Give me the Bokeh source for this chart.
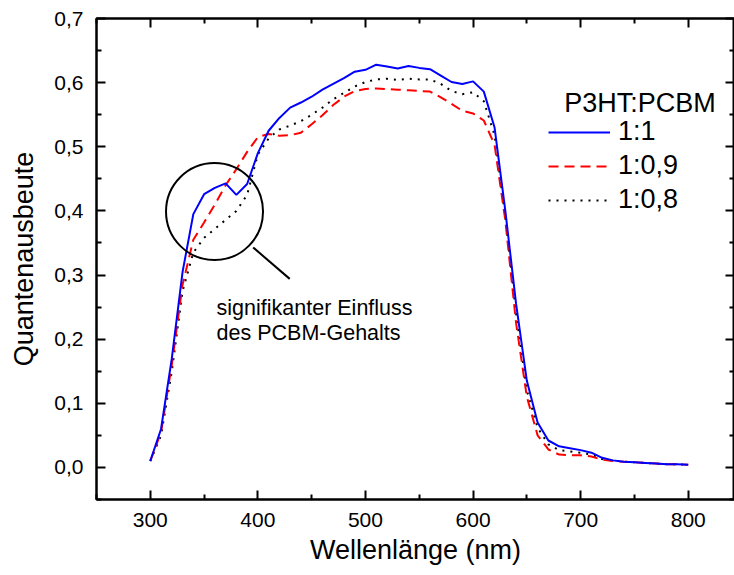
from bokeh.plotting import figure
from bokeh.models import (LinearAxis, FixedTicker, CustomJSTickFormatter, Range1d,
                          Legend, LegendItem, Label)
from bokeh.embed import file_html
from bokeh.resources import INLINE

# ---------------- data ----------------
wavelength = list(range(300, 801, 10))

qe_1_1 = [0.010, 0.060, 0.170, 0.305, 0.395, 0.426, 0.436, 0.443, 0.425, 0.442,
          0.490, 0.525, 0.545, 0.561, 0.569, 0.578, 0.589, 0.598, 0.607, 0.617,
          0.620, 0.628, 0.625, 0.622, 0.626, 0.623, 0.621, 0.611, 0.601, 0.598,
          0.602, 0.586, 0.530, 0.400, 0.255, 0.135, 0.070, 0.042, 0.033, 0.030,
          0.027, 0.023, 0.015, 0.011, 0.009, 0.008, 0.007, 0.006, 0.005, 0.005,
          0.004]

qe_1_09 = [0.010, 0.055, 0.160, 0.285, 0.355, 0.382, 0.410, 0.440, 0.465, 0.492,
           0.515, 0.520, 0.517, 0.518, 0.522, 0.535, 0.549, 0.565, 0.578, 0.587,
           0.590, 0.591, 0.590, 0.589, 0.588, 0.587, 0.586, 0.577, 0.567, 0.556,
           0.552, 0.541, 0.503, 0.385, 0.225, 0.110, 0.050, 0.028, 0.020, 0.019,
           0.019, 0.017, 0.012, 0.010, 0.009, 0.008, 0.007, 0.006, 0.005, 0.005,
           0.004]

qe_1_08 = [0.010, 0.050, 0.150, 0.275, 0.335, 0.358, 0.372, 0.386, 0.400, 0.425,
           0.488, 0.513, 0.527, 0.533, 0.540, 0.550, 0.561, 0.574, 0.584, 0.594,
           0.601, 0.605, 0.606, 0.604, 0.606, 0.605, 0.605, 0.598, 0.587, 0.582,
           0.585, 0.571, 0.518, 0.390, 0.240, 0.120, 0.062, 0.036, 0.027, 0.025,
           0.023, 0.020, 0.013, 0.011, 0.009, 0.008, 0.007, 0.006, 0.005, 0.005,
           0.004]

series_labels = ["1:1", "1:0,9", "1:0,8"]
legend_title = "P3HT:PCBM"
annotation_lines = ["signifikanter Einfluss", "des PCBM-Gehalts"]

x_ticks = [300, 400, 500, 600, 700, 800]
x_minor = [250, 350, 450, 550, 650, 750, 850]
y_ticks = [0.0, 0.1, 0.2, 0.3, 0.4, 0.5, 0.6, 0.7]
y_minor = [-0.05, 0.05, 0.15, 0.25, 0.35, 0.45, 0.55, 0.65]

FONT = "Liberation Sans"

# ---------------- figure ----------------
p = figure(width=734, height=575, output_backend="svg", toolbar_location=None,
           x_range=Range1d(250, 843), y_range=Range1d(-0.05, 0.7),
           min_border_left=96, min_border_right=0, min_border_top=18,
           min_border_bottom=76,
           x_axis_label="Wellenlänge (nm)", y_axis_label="Quantenausbeute")
p.grid.visible = False
p.outline_line_color = "black"
p.outline_line_width = 2
p.background_fill_color = "white"
p.border_fill_color = "white"

xt = FixedTicker(ticks=x_ticks, minor_ticks=x_minor)
yt = FixedTicker(ticks=y_ticks, minor_ticks=y_minor)

comma_fmt = CustomJSTickFormatter(code="return tick.toFixed(1).replace('.', ',');")
blank_fmt = CustomJSTickFormatter(code="return '';")


def style_axis(ax, labels=True):
    ax.axis_line_color = "black"
    ax.axis_line_width = 2
    ax.major_tick_line_color = "black"
    ax.major_tick_line_width = 2
    ax.minor_tick_line_color = "black"
    ax.minor_tick_line_width = 2
    ax.major_tick_in = 9
    ax.major_tick_out = 0
    ax.minor_tick_in = 5
    ax.minor_tick_out = 0
    ax.major_label_text_font = FONT
    ax.major_label_text_color = "black"
    ax.axis_label_text_font = FONT
    ax.axis_label_text_font_style = "normal"
    ax.axis_label_text_color = "black"
    if labels:
        ax.major_label_text_font_size = "21px"
        ax.axis_label_text_font_size = "27px"
    else:
        ax.major_label_text_font_size = "0px"
        ax.major_label_standoff = 0


xa = p.xaxis[0]
xa.ticker = xt
style_axis(xa)
xa.major_label_standoff = 13
xa.axis_label_standoff = 5

ya = p.yaxis[0]
ya.ticker = yt
ya.formatter = comma_fmt
style_axis(ya)
ya.major_label_standoff = 13
ya.axis_label_standoff = 12

top = LinearAxis(ticker=FixedTicker(ticks=x_ticks, minor_ticks=x_minor), formatter=blank_fmt)
style_axis(top, labels=False)
p.add_layout(top, "above")

right = LinearAxis(ticker=FixedTicker(ticks=y_ticks, minor_ticks=y_minor), formatter=blank_fmt)
style_axis(right, labels=False)
p.add_layout(right, "right")

# ---------------- data lines ----------------
r3 = p.line(wavelength, qe_1_08, line_color="black", line_width=2, line_dash="2 6")
r2 = p.line(wavelength, qe_1_09, line_color="#ff0000", line_width=2, line_dash="10 6")
r1 = p.line(wavelength, qe_1_1, line_color="#0000ff", line_width=2)

# ---------------- annotation ----------------
p.scatter(x=[359.7], y=[0.399], marker="circle", size=97, fill_color=None,
          line_color="black", line_width=2)
p.segment(x0=[395.6], y0=[0.343], x1=[429.6], y1=[0.294],
          line_color="black", line_width=2)
p.add_layout(Label(x=361.6, y=0.249, text=annotation_lines[0], text_baseline="middle",
                   text_font=FONT, text_font_size="21.5px", text_color="black"))
p.add_layout(Label(x=361.6, y=0.210, text=annotation_lines[1], text_baseline="middle",
                   text_font=FONT, text_font_size="21.5px", text_color="black"))

# ---------------- legend ----------------
p.add_layout(Label(x=684.7, y=0.568, text=legend_title, text_baseline="middle",
                   text_font=FONT, text_font_size="27px", text_color="black"))

legend = Legend(items=[LegendItem(label=series_labels[0], renderers=[r1]),
                       LegendItem(label=series_labels[1], renderers=[r2]),
                       LegendItem(label=series_labels[2], renderers=[r3])],
                location=(452, 284), orientation="vertical",
                border_line_color=None, background_fill_alpha=0,
                padding=0, margin=0, spacing=3,
                glyph_width=62, glyph_height=20, label_standoff=8,
                label_text_font=FONT, label_text_font_size="27px",
                label_text_color="black")
p.add_layout(legend)

open("out.html", "w").write(file_html(p, INLINE))
